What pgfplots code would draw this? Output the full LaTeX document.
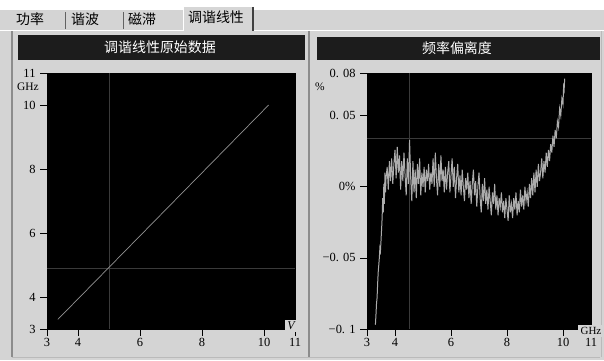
\documentclass[border=0pt]{standalone}
\usepackage{pgfplots}
\pgfplotsset{compat=1.18}
\usepackage{fontspec}
\setmainfont{Liberation Serif}
\newfontfamily\cjk{Noto Sans CJK SC}
\definecolor{bg}{RGB}{212,212,212}
\definecolor{titlebar}{RGB}{28,28,28}
\definecolor{cross}{RGB}{58,58,58}
\definecolor{curve}{RGB}{172,172,172}
\definecolor{frame}{RGB}{140,140,140}
\pgfplotsset{
  scopeaxis/.style={
    anchor=south west, scale only axis, height=256bp,
    axis background/.style={fill=black},
    axis line style={draw=black},
    tick align=outside, tick pos=left,
    major tick length=7bp,
    tick style={black, line width=0.7pt},
    ticklabel style={font=\fontsize{12.5}{12.5}\selectfont},
    /pgf/number format/assume math mode=true,
    xticklabel style={yshift=1bp},
    yticklabel style={xshift=-1bp},
    clip=true,
  }
}
\begin{document}
\begin{tikzpicture}
\begin{scope}[x=1bp,y=1bp]
\path[use as bounding box] (0,0) rectangle (604,360);
\fill[bg] (0,0) rectangle (604,360);
\fill[white] (0,350) rectangle (604,360);
% tab strip
\draw[white, line width=1bp] (253,330) -- (604,330);
\draw[white, line width=1bp] (0,330) -- (183,330);
\draw[frame!70!black, line width=1bp] (65,331) -- (65,348);
\draw[frame!70!black, line width=1bp] (123,331) -- (123,348);
\fill[bg!95!white] (183,329) rectangle (253,353);
\draw[white, line width=1bp] (183,329) -- (183,353) -- (253,353);
\draw[black!75, line width=1.2bp] (253,353) -- (253,329);
\node[font=\cjk\fontsize{14}{14}\selectfont, inner sep=0pt] at (30,341) {功率};
\node[font=\cjk\fontsize{14}{14}\selectfont, inner sep=0pt] at (85,341) {谐波};
\node[font=\cjk\fontsize{14}{14}\selectfont, inner sep=0pt] at (142,341) {磁滞};
\node[font=\cjk\fontsize{14}{14}\selectfont, inner sep=0pt] at (216,342.5) {调谐线性};
% panel frames
\draw[frame, line width=1.5bp] (12,3) -- (12,329);
\draw[frame, line width=1.5bp] (309,3) -- (309,329);
\draw[frame!60, line width=1bp] (12,3) -- (600,3);
\draw[frame!60, line width=1bp] (601,3) -- (601,329);
% title bars
\fill[titlebar] (18,300) rectangle (305,325);
\fill[titlebar] (317,300) rectangle (600,323);
\node[font=\cjk\fontsize{14}{14}\selectfont, text=white, inner sep=0pt] at (160,312.5) {调谐线性原始数据};
\node[font=\cjk\fontsize{14}{14}\selectfont, text=white, inner sep=0pt] at (457,311.5) {频率偏离度};
\end{scope}

% left axis
\begin{axis}[scopeaxis,
  at={(47bp,31bp)}, width=248bp,
  xmin=3, xmax=11, ymin=3, ymax=11,
  xtick={3,4,6,8,10,11}, ytick={3,4,6,8,10,11},
]
\addplot[cross, line width=0.75pt] coordinates {(5,3) (5,11)};
\addplot[cross, line width=0.75pt] coordinates {(3,4.9) (11,4.9)};
\addplot[curve!85!black, line width=0.7pt] coordinates {(3.35,3.30) (10.15,10.00)};
\end{axis}

% right axis
\begin{axis}[scopeaxis,
  at={(367bp,31bp)}, width=224bp,
  xmin=3, xmax=11, ymin=-0.1, ymax=0.08,
  xtick={3,4,6,8,10,11},
  ytick={-0.1,-0.05,0,0.05,0.08},
  yticklabels={−0. 1,−0. 05,0\%,0. 05,0. 08},
]
\addplot[cross, line width=0.75pt] coordinates {(4.5,-0.1) (4.5,0.08)};
\addplot[cross, line width=0.75pt] coordinates {(3,0.034) (11,0.034)};
\addplot[curve, line width=1pt] coordinates {
(3.30,-0.097) (3.32,-0.090) (3.34,-0.082) (3.36,-0.078) (3.38,-0.068) (3.40,-0.060)
(3.42,-0.055) (3.44,-0.050) (3.46,-0.043) (3.48,-0.045) (3.50,-0.038) (3.52,-0.030)
(3.54,-0.022) (3.56,-0.008) (3.58,-0.018) (3.60,0.002) (3.62,-0.012) (3.64,0.010)
(3.66,-0.004) (3.68,0.006)
(3.72,0.014) (3.76,-0.002) (3.80,0.018) (3.84,0.004) (3.88,0.020) (3.92,0.002)
(3.96,0.016) (4.00,0.026) (4.04,0.006) (4.08,0.028) (4.12,0.010) (4.16,0.022)
(4.20,-0.002) (4.24,0.018) (4.28,0.004) (4.32,0.024) (4.36,0.008) (4.40,-0.006)
(4.44,0.020) (4.48,0.002) (4.52,0.033) (4.56,0.006) (4.60,-0.010) (4.64,0.018)
(4.68,-0.004) (4.72,0.012) (4.76,-0.008) (4.80,0.016) (4.84,0.002) (4.88,0.020)
(4.92,-0.006) (4.96,0.010) (5.00,0.000) (5.04,0.014) (5.08,-0.004) (5.12,0.012)
(5.16,0.004) (5.20,0.016) (5.24,-0.002) (5.28,0.010) (5.32,0.002) (5.36,0.020)
(5.40,0.000) (5.44,0.024) (5.48,0.006) (5.52,-0.006) (5.56,0.016) (5.60,0.000)
(5.64,0.022) (5.68,0.004) (5.72,0.012) (5.76,-0.004) (5.80,0.014) (5.84,-0.002)
(5.88,0.010) (5.92,0.018) (5.96,-0.004) (6.00,0.008) (6.04,0.020) (6.08,0.000)
(6.12,0.014) (6.16,-0.008) (6.20,0.006) (6.24,0.016) (6.28,-0.004) (6.32,0.008)
(6.36,-0.006) (6.40,0.012) (6.44,0.000) (6.48,-0.010) (6.52,0.006) (6.56,-0.002)
(6.60,0.010) (6.64,-0.008) (6.68,0.004) (6.72,-0.012) (6.76,0.002) (6.80,0.012)
(6.84,-0.006) (6.88,0.004) (6.92,-0.014) (6.96,0.000) (7.00,0.010) (7.04,-0.008)
(7.08,-0.018) (7.12,0.002) (7.16,-0.010) (7.20,0.006) (7.24,-0.012) (7.28,-0.002)
(7.32,-0.016) (7.36,0.000) (7.40,-0.010) (7.44,-0.020) (7.48,-0.004) (7.52,-0.012)
(7.56,0.002) (7.60,-0.016) (7.64,-0.006) (7.68,-0.020) (7.72,-0.008) (7.76,-0.014)
(7.80,-0.004) (7.84,-0.018) (7.88,-0.010) (7.92,-0.022) (7.96,-0.008) (8.00,-0.016)
(8.04,-0.024) (8.08,-0.006) (8.12,-0.018) (8.16,-0.012) (8.20,-0.022) (8.24,-0.008)
(8.28,-0.016) (8.32,-0.004) (8.36,-0.020) (8.40,-0.010) (8.44,-0.018) (8.48,-0.002)
(8.52,-0.014) (8.56,-0.006) (8.60,-0.016) (8.64,0.000) (8.68,-0.010) (8.72,-0.004)
(8.76,-0.014) (8.80,0.002) (8.84,-0.008) (8.88,0.006) (8.92,-0.006) (8.96,0.010)
(9.00,-0.004) (9.04,0.012) (9.08,0.000) (9.12,0.016) (9.16,0.004) (9.20,0.010)
(9.24,0.020) (9.28,0.006) (9.32,0.018) (9.36,0.010) (9.40,0.024) (9.44,0.014)
(9.48,0.026) (9.52,0.018) (9.56,0.030) (9.60,0.024) (9.64,0.036) (9.68,0.028)
(9.72,0.040) (9.76,0.034) (9.80,0.046) (9.84,0.042) (9.88,0.055) (9.92,0.050)
(9.96,0.062) (10.00,0.058) (10.02,0.070) (10.04,0.068) (10.06,0.076)
};
\end{axis}

\begin{scope}[x=1bp,y=1bp]
\node[font=\fontsize{11.5}{11.5}\selectfont, inner sep=0pt] at (28,273) {GHz};
\node[font=\fontsize{11.5}{11.5}\selectfont, inner sep=0pt] at (320,273) {\%};
\fill[bg] (285,28) rectangle (297,40);
\node[font=\fontsize{12}{12}\selectfont\itshape, inner sep=0pt] at (291,34) {V};
\fill[bg] (578,23) rectangle (604,35);
\node[font=\fontsize{11}{11}\selectfont, inner sep=0pt] at (591,29) {GHz};
\end{scope}
\end{tikzpicture}
\end{document}
